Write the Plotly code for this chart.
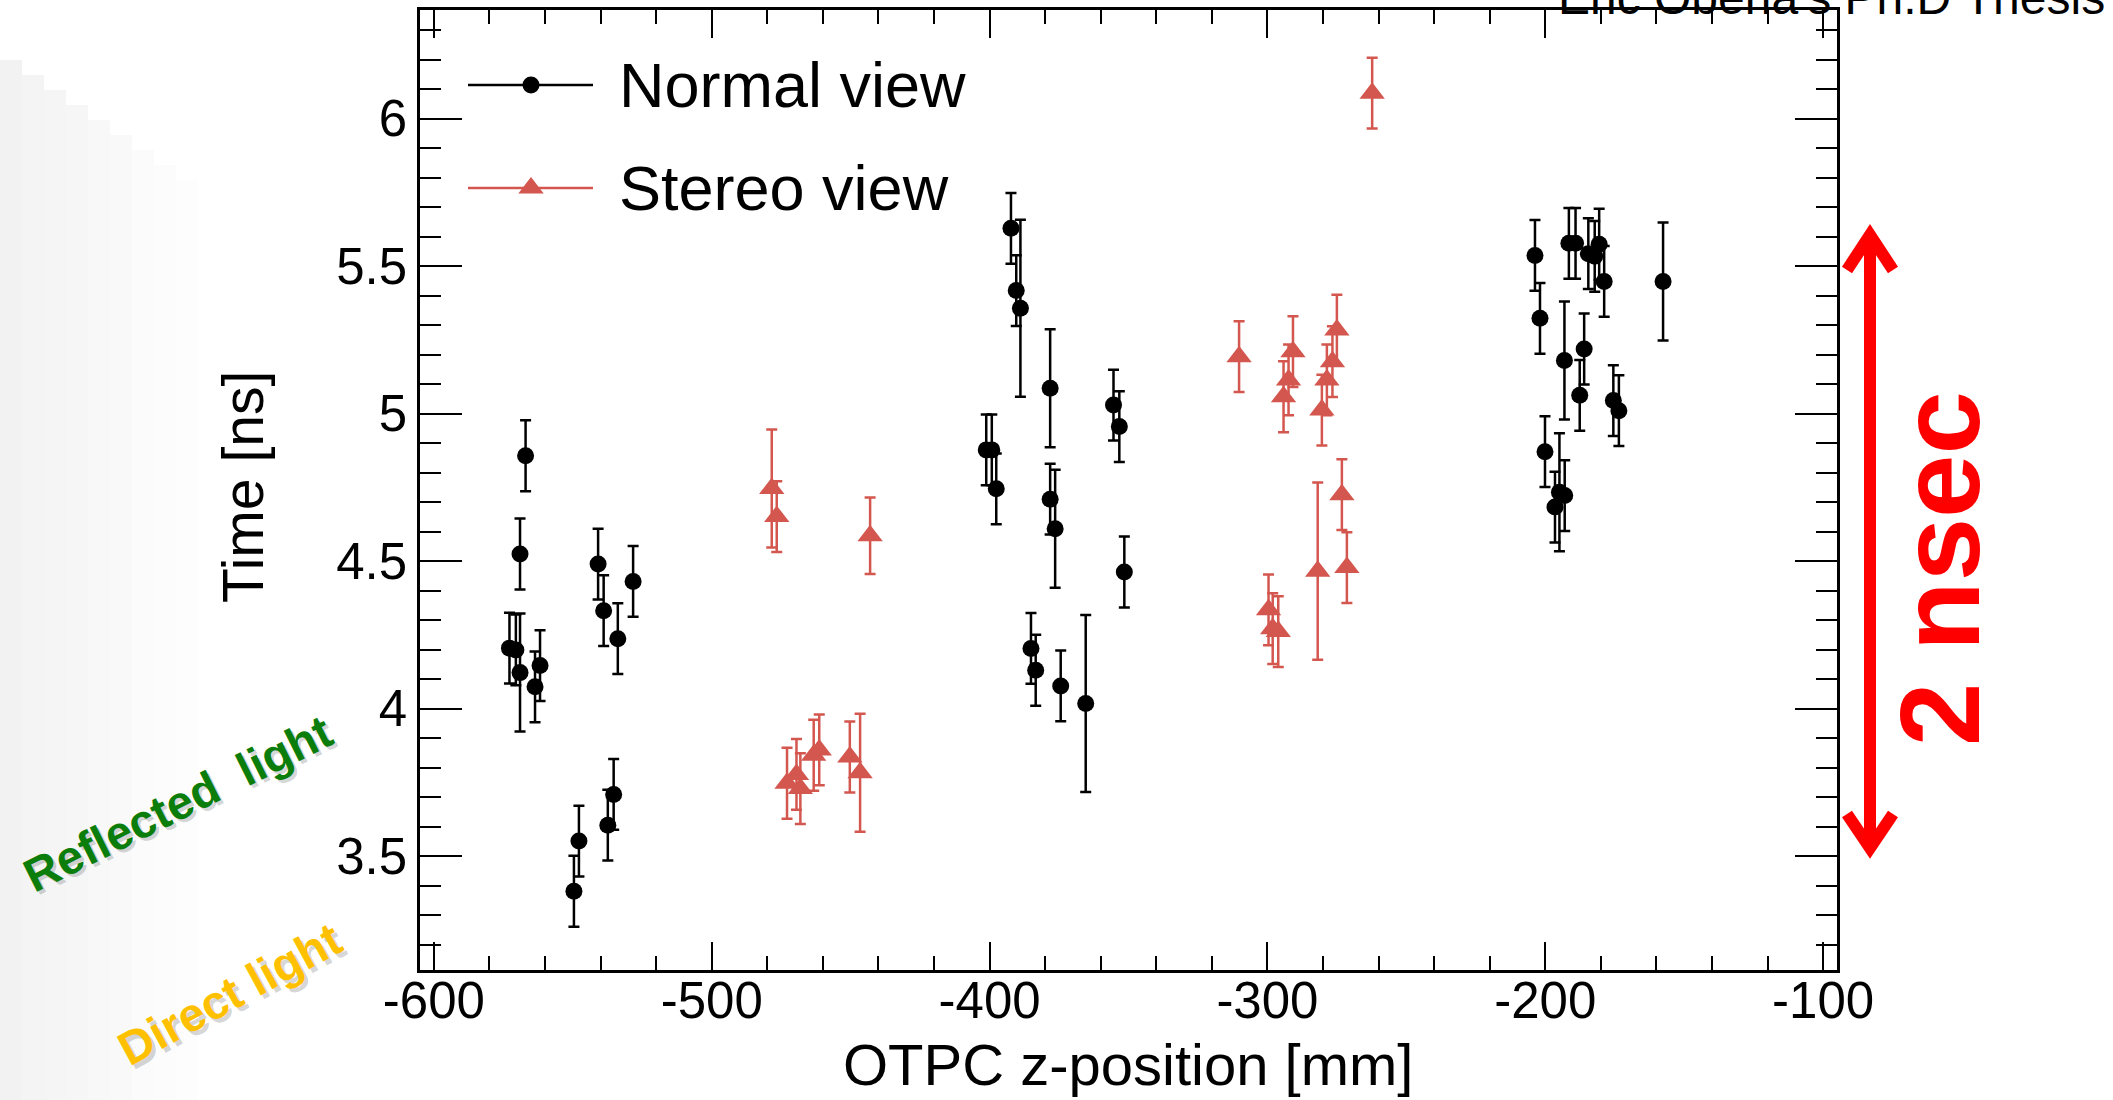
import plotly.graph_objects as go

# ---------------- data ----------------
normal_z = [-567.0, -569.0, -572.8, -570.5, -569.0, -563.6, -561.8, -540.9, -538.9, -533.8, -528.3,
            -549.6, -547.8, -537.4, -535.3,
            -401.2, -399.2, -397.6, -392.3, -390.4, -388.9, -378.2, -378.2, -376.4, -385.1, -383.4,
            -374.4, -365.4, -355.4, -353.3, -351.5,
            -203.7, -201.9, -191.5, -189.1, -184.5, -182.2, -180.6, -178.8, -157.6, -193.1, -186.0,
            -187.6, -175.5, -173.5, -200.1, -196.5, -194.9, -193.0]
normal_t = [4.857, 4.524, 4.205, 4.199, 4.122, 4.074, 4.146, 4.490, 4.332, 4.237, 4.431,
            3.381, 3.551, 3.605, 3.709,
            4.877, 4.877, 4.745, 5.628, 5.417, 5.357, 5.086, 4.710, 4.610, 4.204, 4.130,
            4.077, 4.017, 5.029, 4.956, 4.463,
            5.536, 5.323, 5.577, 5.577, 5.542, 5.533, 5.574, 5.448, 5.448, 5.180, 5.219,
            5.062, 5.044, 5.010, 4.871, 4.683, 4.733, 4.722]
normal_err = [0.12, 0.12, 0.12, 0.12, 0.20, 0.12, 0.12, 0.12, 0.12, 0.12, 0.12,
              0.12, 0.12, 0.12, 0.12,
              0.12, 0.12, 0.12, 0.12, 0.12, 0.30, 0.20, 0.12, 0.20, 0.12, 0.12,
              0.12, 0.30, 0.12, 0.12, 0.12,
              0.12, 0.12, 0.12, 0.12, 0.12, 0.12, 0.12, 0.12, 0.20, 0.20, 0.12,
              0.12, 0.12, 0.12, 0.12, 0.12, 0.20, 0.12]

stereo_z = [-478.4, -476.6, -443.0, -472.9, -469.5, -468.1, -463.3, -461.3, -450.3, -446.6,
            -262.3, -310.2, -290.8, -292.4, -294.2, -275.0, -276.6, -278.6, -280.4,
            -273.2, -281.9, -271.4, -299.6, -298.1, -296.1]
stereo_t = [4.746, 4.651, 4.586, 3.747, 3.777, 3.729, 3.842, 3.860, 3.836, 3.783,
            6.086, 5.193, 5.210, 5.114, 5.057, 5.283, 5.176, 5.114, 5.012,
            4.725, 4.466, 4.478, 4.335, 4.271, 4.261]
stereo_err = [0.20, 0.12, 0.13, 0.12, 0.12, 0.12, 0.12, 0.12, 0.12, 0.20,
              0.12, 0.12, 0.12, 0.12, 0.12, 0.12, 0.12, 0.12, 0.12,
              0.12, 0.30, 0.12, 0.12, 0.12, 0.12]

x_tickvals = [-600, -500, -400, -300, -200, -100]
x_ticktext = ["-600", "-500", "-400", "-300", "-200", "-100"]
y_tickvals = [3.5, 4, 4.5, 5, 5.5, 6]
y_ticktext = ["3.5", "4", "4.5", "5", "5.5", "6"]

series_names = ["Normal view", "Stereo view"]

# ---------------- layout geometry (pixels) ----------------
W, H = 2113, 1100
L, R, T, B = 420, 1837, 10, 970


def pxx(x):
    return (x - L) / (R - L)


def pxy(y):
    return (B - y) / (B - T)


BLACK = "#000000"
RED = "#D4574F"
FONT = "Liberation Sans, Arial, Helvetica, sans-serif"
CIRCLE_SIZE = 17
TRI_SIZE = 22

fig = go.Figure()

fig.add_trace(go.Scatter(
    x=normal_z, y=normal_t, mode="markers", name=series_names[0],
    marker=dict(symbol="circle", size=CIRCLE_SIZE, color=BLACK),
    error_y=dict(type="data", array=normal_err, color=BLACK, thickness=2.5, width=5.5),
    showlegend=False, cliponaxis=False,
))
fig.add_trace(go.Scatter(
    x=stereo_z, y=stereo_t, mode="markers", name=series_names[1],
    marker=dict(symbol="triangle-up", size=TRI_SIZE, color=RED),
    error_y=dict(type="data", array=stereo_err, color=RED, thickness=2.5, width=5.5),
    showlegend=False, cliponaxis=False,
))

# custom legend drawn on an overlay axis in pixel units
leg_rows = [85, 188]
leg_styles = [(BLACK, "circle", CIRCLE_SIZE), (RED, "triangle-up", TRI_SIZE)]
for name, yrow, (col, sym, sz) in zip(series_names, leg_rows, leg_styles):
    fig.add_trace(go.Scatter(
        x=[468, 593], y=[yrow, yrow], mode="lines", line=dict(color=col, width=2.5),
        xaxis="x2", yaxis="y2", showlegend=False, hoverinfo="skip", cliponaxis=False))
    fig.add_trace(go.Scatter(
        x=[531], y=[yrow], mode="markers", marker=dict(symbol=sym, size=sz, color=col),
        xaxis="x2", yaxis="y2", showlegend=False, hoverinfo="skip", cliponaxis=False))

annotations = []
for name, yrow in zip(series_names, leg_rows):
    annotations.append(dict(x=pxx(617), y=pxy(yrow), xref="paper", yref="paper",
                            text=name, showarrow=False, xanchor="left", yanchor="middle",
                            font=dict(family=FONT, size=63, color=BLACK)))

# thesis label at top (cut off by the image edge, as in the source)
annotations.append(dict(x=pxx(1556), y=pxy(26), xref="paper", yref="paper",
                        text="Eric Oberla's Ph.D Thesis", showarrow=False,
                        xanchor="left", yanchor="bottom",
                        font=dict(family=FONT, size=48, color=BLACK)))

# axis titles placed as annotations for exact positioning
annotations.append(dict(x=pxx(1128), y=pxy(1064), xref="paper", yref="paper",
                        text="OTPC z-position [mm]", showarrow=False,
                        xanchor="center", yanchor="middle",
                        font=dict(family=FONT, size=58, color=BLACK)))
annotations.append(dict(x=pxx(243), y=pxy(487), xref="paper", yref="paper",
                        text="Time [ns]", showarrow=False, textangle=-90,
                        xanchor="center", yanchor="middle",
                        font=dict(family=FONT, size=57, color=BLACK)))

# 2 nsec label
annotations.append(dict(x=pxx(1939), y=pxy(568), xref="paper", yref="paper",
                        text="<b>2 nsec</b>", showarrow=False, textangle=-90,
                        xanchor="center", yanchor="middle",
                        font=dict(family=FONT, size=114, color="#FF0000")))

# rotated labels with soft shadows
for txt, cx, cy, ang, col in [("Reflected\u00a0\u00a0light", 177, 803, -26.5, "#0B7D0B"),
                              ("Direct light", 230, 994, -28.5, "#FFC000")]:
    annotations.append(dict(x=pxx(cx + 3), y=pxy(cy + 3), xref="paper", yref="paper",
                            text="<b>" + txt + "</b>", showarrow=False, textangle=ang,
                            xanchor="center", yanchor="middle",
                            font=dict(family=FONT, size=47, color="rgba(0,0,0,0.18)")))
    annotations.append(dict(x=pxx(cx), y=pxy(cy), xref="paper", yref="paper",
                            text="<b>" + txt + "</b>", showarrow=False, textangle=ang,
                            xanchor="center", yanchor="middle",
                            font=dict(family=FONT, size=47, color=col)))

# faint slide background shading on the far left (soft gradient bands)
shapes = []
band_alpha = [0.05, 0.045, 0.04, 0.035, 0.028, 0.022, 0.016, 0.010, 0.006]
for i, a in enumerate(band_alpha):
    shapes.append(dict(type="rect", xref="paper", yref="paper", layer="below",
                       x0=pxx(i * 22), x1=pxx((i + 1) * 22), y0=pxy(1100), y1=pxy(60 + i * 15),
                       fillcolor=f"rgba(0,0,0,{a})", line=dict(width=0)))

# double arrow
ax_x = 1870
shapes += [
    dict(type="line", xref="paper", yref="paper", x0=pxx(ax_x), x1=pxx(ax_x),
         y0=pxy(240), y1=pxy(842), line=dict(color="#FF0000", width=12)),
    dict(type="path", xref="paper", yref="paper",
         path=f"M {pxx(ax_x-23)},{pxy(270)} L {pxx(ax_x)},{pxy(235)} L {pxx(ax_x+23)},{pxy(270)}",
         line=dict(color="#FF0000", width=12)),
    dict(type="path", xref="paper", yref="paper",
         path=f"M {pxx(ax_x-23)},{pxy(814)} L {pxx(ax_x)},{pxy(848)} L {pxx(ax_x+23)},{pxy(814)}",
         line=dict(color="#FF0000", width=12)),
]

axis_common = dict(showline=True, linecolor=BLACK, linewidth=2.5, mirror="allticks",
                   ticks="inside", tickcolor=BLACK, tickwidth=2, showgrid=False,
                   zeroline=False, automargin=False,
                   tickfont=dict(family=FONT, size=51, color=BLACK))

fig.update_layout(
    width=W, height=H,
    margin=dict(l=L, r=W - R, t=T, b=H - B, pad=0, autoexpand=False),
    paper_bgcolor="white", plot_bgcolor="white",
    font=dict(family=FONT, color=BLACK),
    xaxis=dict(range=[-605, -95], tickmode="array", tickvals=x_tickvals, ticktext=x_ticktext,
               ticklen=28, ticklabelstandoff=-16,
               minor=dict(tickmode="linear", tick0=-600, dtick=20, ticklen=14, tickwidth=2,
                          tickcolor=BLACK, ticks="inside", showgrid=False),
               **axis_common),
    yaxis=dict(range=[3.114, 6.368], tickmode="array", tickvals=y_tickvals, ticktext=y_ticktext,
               ticklen=42,
               minor=dict(tickmode="linear", tick0=3.0, dtick=0.1, ticklen=21, tickwidth=2,
                          tickcolor=BLACK, ticks="inside", showgrid=False),
               **axis_common),
    xaxis2=dict(range=[L, R], overlaying="x", visible=False, domain=[0, 1]),
    yaxis2=dict(range=[B, T], overlaying="y", visible=False, domain=[0, 1]),
    annotations=annotations,
    shapes=shapes,
)

fig.write_html("out.html", config={"displayModeBar": False},
               post_script="document.body.style.margin='0';document.body.style.overflow='hidden';")
